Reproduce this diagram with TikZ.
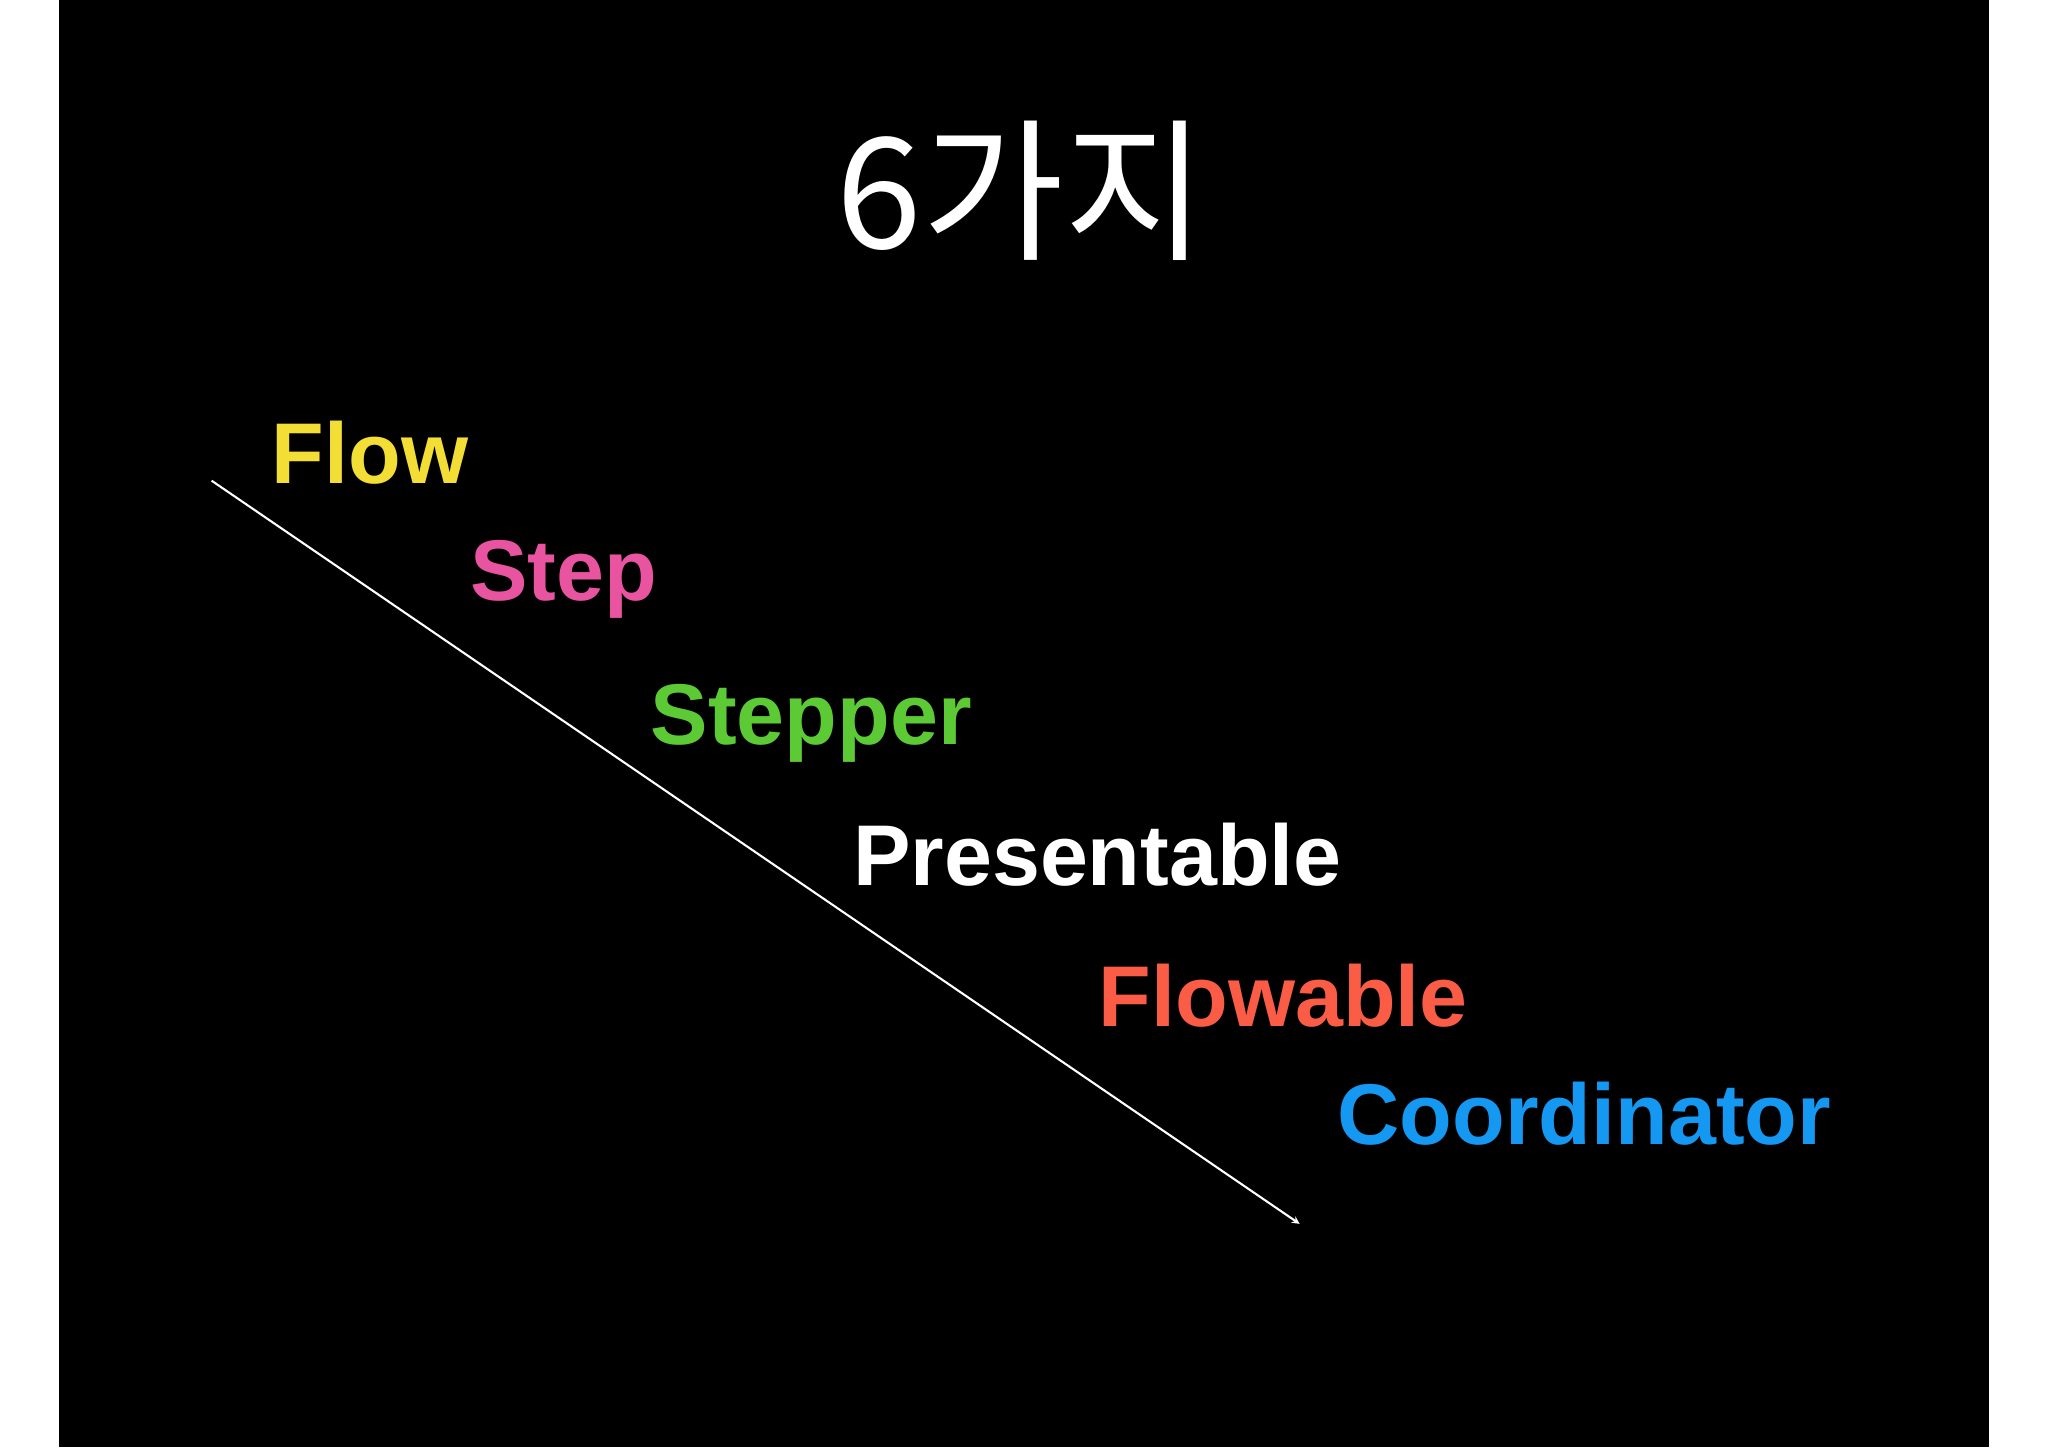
\documentclass[tikz,border=0pt]{standalone}
\usepackage{fontspec}
\setmainfont{Liberation Sans}
\newfontfamily\cjk{Noto Sans CJK KR}
\definecolor{cyellow}{RGB}{242,222,52}
\definecolor{cpink}{RGB}{232,84,160}
\definecolor{cgreen}{RGB}{92,202,52}
\definecolor{cred}{RGB}{250,92,70}
\definecolor{cblue}{RGB}{20,152,242}
\begin{document}
\begin{tikzpicture}[x=1pt,y=-1pt,
  word/.style={anchor=base west,inner sep=0pt,font=\fontsize{66}{70}\selectfont\bfseries}]
\useasboundingbox (0,0) rectangle (1568,1108);
\fill[white] (0,0) rectangle (1568,1108);
\fill[black] (45,0) rectangle (1523,1108);
\node[anchor=base,inner sep=0pt,text=white,font=\cjk\fontsize{118}{120}\selectfont] (title) at (782,190) {6가지};
\node[word,text=cyellow] (flow) at (208,370) {Flow};
\node[word,text=cpink] (step) at (360,460) {Step};
\node[word,text=cgreen] (stepper) at (498,570) {Stepper};
\node[word,text=white] (pres) at (653,678) {Presentable};
\node[word,text=cred] (flowable) at (841,786) {Flowable};
\node[word,text=cblue] (coord) at (1024,876) {Coordinator};
\coordinate (a) at (162,368);
\coordinate (b) at (995,937);
\draw[white,line width=1.6pt,-stealth] (a) -- (b);
\end{tikzpicture}
\end{document}
